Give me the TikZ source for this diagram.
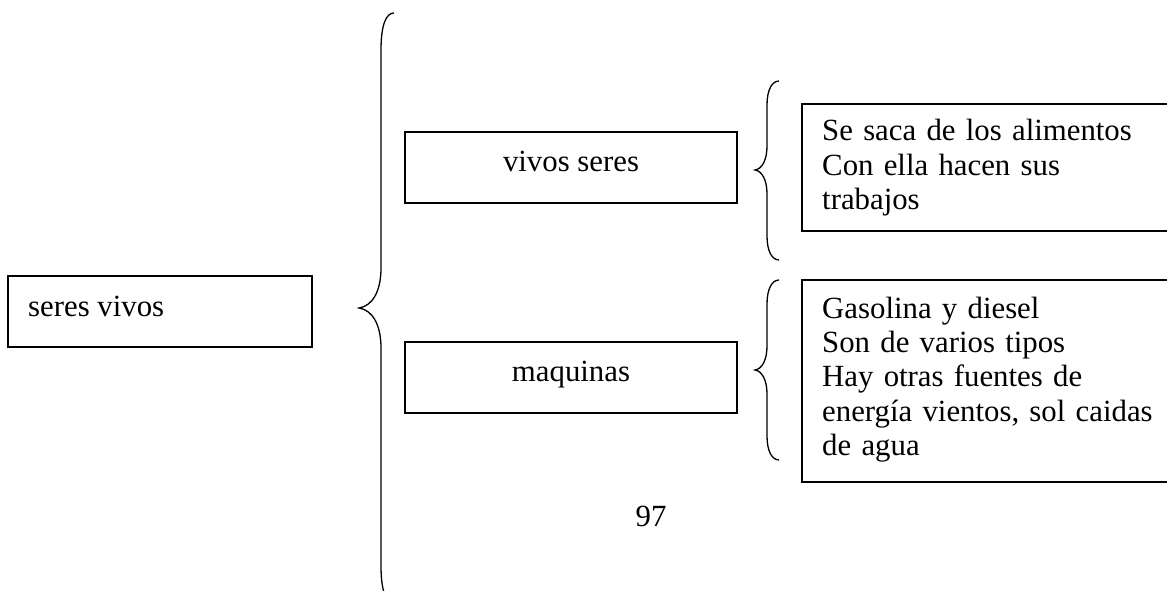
\documentclass[tikz,border=0pt]{standalone}
\usepackage{fontspec}
\setmainfont{Liberation Serif}
\usepackage{tikz}
\usetikzlibrary{positioning}

\begin{document}
\begin{tikzpicture}[
  x=1pt, y=-1pt,
  caja/.style={draw=black, line width=1.1pt, inner sep=0pt},
  texto/.style={inner sep=0pt, font=\fontsize{30.8}{34.4}\selectfont},
  lista/.style={texto, align=left, text width=340pt, anchor=base west},
  llave/.style={draw=black, line width=1.3pt}
]
\useasboundingbox (0,0) rectangle (1167,591);
\clip (0,0) rectangle (1167,591);

% Main box
\node[caja, minimum width=304pt, minimum height=71pt] (seres) at (160,311.5) {};
\node[texto, anchor=base west] (seresT) at (28,316) {seres vivos};

% Middle boxes
\node[caja, minimum width=332pt, minimum height=71pt] (vivos) at (571,167.5) {};
\node[texto, anchor=base] (vivosT) at (571,171.5) {vivos seres};
\node[caja, minimum width=332pt, minimum height=71pt] (maq) at (571,377.5) {};
\node[texto, anchor=base] (maqT) at (571,381.5) {maquinas};

% Right boxes
\node[caja, minimum width=370pt, minimum height=127pt] (alim) at (987,167.5) {};
\node[lista] (alimT) at (822,141) {Se saca de los alimentos\\Con ella hacen sus\\trabajos};
\node[caja, minimum width=370pt, minimum height=202pt] (comb) at (987,381) {};
\node[lista] (combT) at (822,318) {Gasolina y diesel\\Son de varios tipos\\Hay otras fuentes de\\energía vientos, sol caidas\\de agua};

% Braces
\draw[llave] (394,13) .. controls (386,13) and (381,25) .. (381,50) -- (381,268)
  .. controls (381,292) and (372,306) .. (359,308)
  .. controls (372,310) and (381,324) .. (381,348) -- (381,566)
  .. controls (381,591) and (386,603) .. (394,603);
\draw[llave] (779,81) .. controls (772,81) and (767,90) .. (767,105) -- (767,146)
  .. controls (767,160) and (762,169) .. (755,170)
  .. controls (762,171) and (767,180) .. (767,194) -- (767,236)
  .. controls (767,251) and (772,260) .. (779,260);
\draw[llave] (779,280) .. controls (772,280) and (767,289) .. (767,304) -- (767,346)
  .. controls (767,360) and (762,369) .. (755,370)
  .. controls (762,371) and (767,380) .. (767,394) -- (767,436)
  .. controls (767,451) and (772,460) .. (779,460);

% Page number
\node[texto, anchor=base] (pag) at (651,526) {97};

\end{tikzpicture}
\end{document}
